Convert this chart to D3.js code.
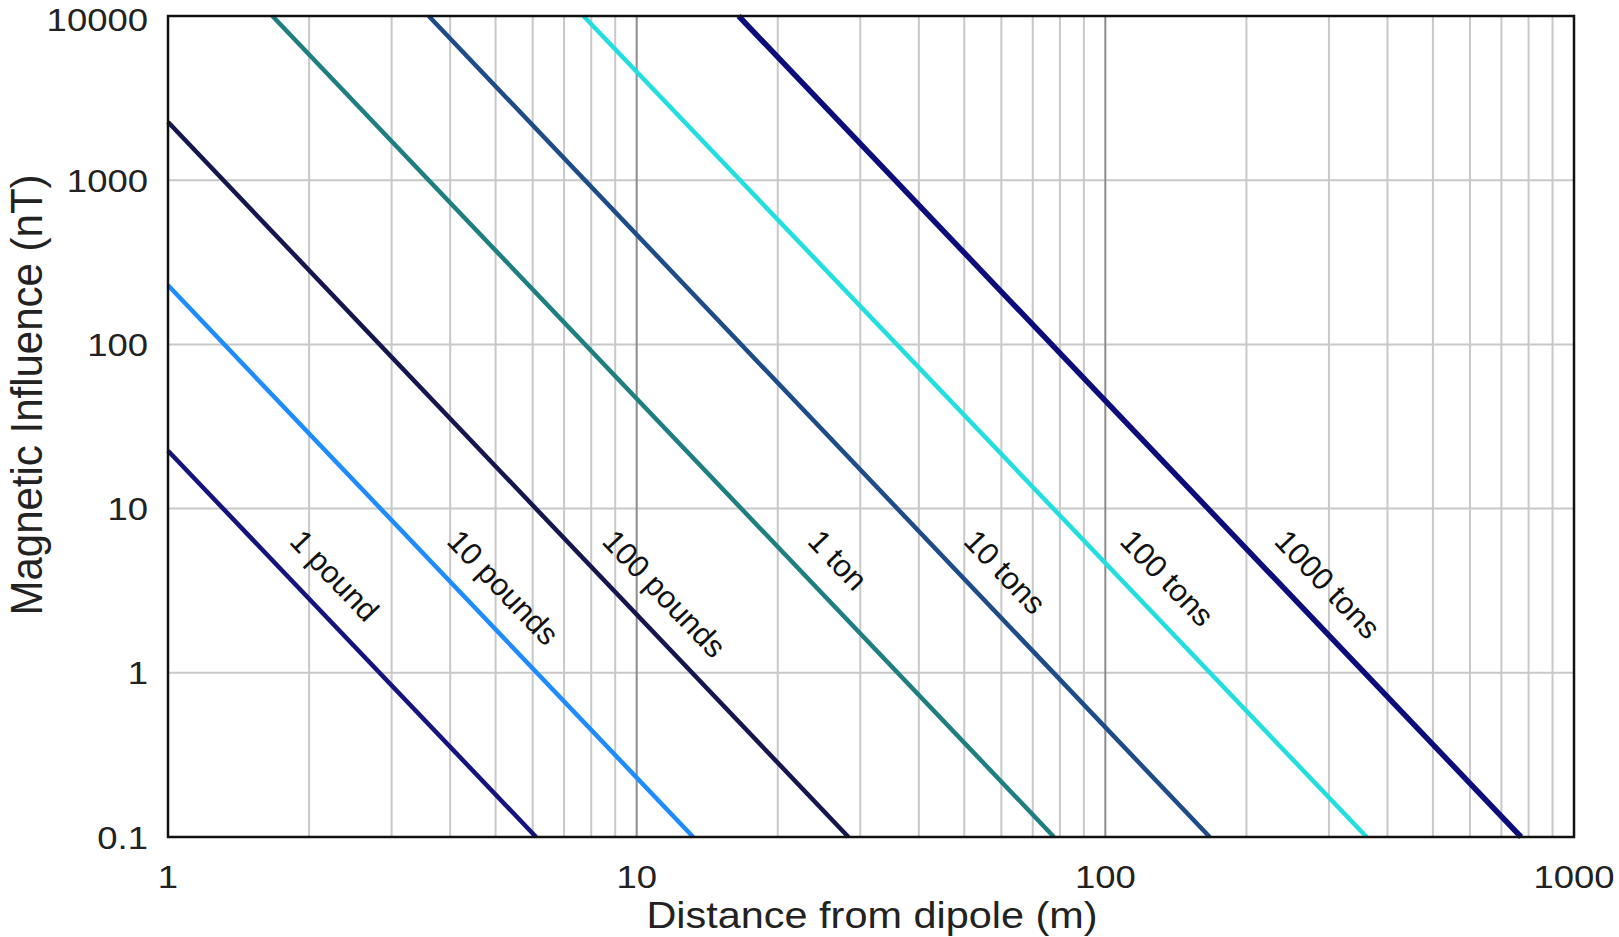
<!DOCTYPE html>
<html>
<head>
<meta charset="utf-8">
<script src="https://cdn.jsdelivr.net/npm/d3@7"></script>
<style>
  html, body { margin: 0; padding: 0; background: #fff; }
  svg { display: block; font-family: "Liberation Sans", Arial, sans-serif; }
</style>
</head>
<body>
<script>
const masses     = ["1 pound", "10 pounds", "100 pounds", "1 ton", "10 tons", "100 tons", "1000 tons"];
const startDist  = [1, 1, 1, 1.67, 3.6, 7.7, 16.5];
const startField = [22.5, 229, 2260, 10000, 10000, 10000, 10000];
const endDist    = [6.1, 13.2, 28.3, 77.7, 167, 361, 771];
const endField   = [0.1, 0.1, 0.1, 0.1, 0.1, 0.1, 0.1];
const lineColors = ["#14147e", "#1e8cff", "#16164f", "#1f7f80", "#1d4c88", "#22dede", "#0c0c7a"];
const lineWidths = [4.5, 4.5, 4.5, 4.5, 4.5, 4.5, 5.5];

const xTickVals = [1, 10, 100, 1000];
const xTickText = ["1", "10", "100", "1000"];
const yTickVals = [0.1, 1, 10, 100, 1000, 10000];
const yTickText = ["0.1", "1", "10", "100", "1000", "10000"];

const labelField = 5.8; // labels all sit at about this height

const W = 1619, H = 937;
const plotL = 168, plotR = 1574, plotT = 16, plotB = 837;

const svg = d3.select("body").append("svg")
    .attr("width", W)
    .attr("height", H);

const x = d3.scaleLog().domain([1, 1000]).range([plotL, plotR]);
const y = d3.scaleLog().domain([0.1, 10000]).range([plotB, plotT]);

// grid
const grid = svg.append("g");
const isMajor = v => Math.abs(Math.log10(v) - Math.round(Math.log10(v))) < 1e-9;

grid.selectAll("line.ygrid")
    .data(yTickVals.slice(1, -1))
    .enter().append("line")
    .attr("x1", plotL).attr("x2", plotR)
    .attr("y1", d => y(d)).attr("y2", d => y(d))
    .attr("stroke", "#c8c8c8")
    .attr("stroke-width", 2);

grid.selectAll("line.xgrid")
    .data(x.ticks().filter(v => v > 1 && v < 1000))
    .enter().append("line")
    .attr("x1", d => x(d)).attr("x2", d => x(d))
    .attr("y1", plotT).attr("y2", plotB)
    .attr("stroke", d => isMajor(d) ? "#8c8c8c" : "#c8c8c8")
    .attr("stroke-width", 2);

// lines
const line = d3.line().x(d => x(d[0])).y(d => y(d[1]));
const series = masses.map((m, i) => ({
    name: m,
    pts: [[startDist[i], startField[i]], [endDist[i], endField[i]]],
    color: lineColors[i],
    width: lineWidths[i]
}));

svg.append("g").selectAll("path")
    .data(series)
    .enter().append("path")
    .attr("d", d => line(d.pts))
    .attr("fill", "none")
    .attr("stroke", d => d.color)
    .attr("stroke-width", d => d.width);

// frame
svg.append("rect")
    .attr("x", plotL).attr("y", plotT)
    .attr("width", plotR - plotL).attr("height", plotB - plotT)
    .attr("fill", "none")
    .attr("stroke", "#111")
    .attr("stroke-width", 2.5);

// labels along the lines
function onLine(d, field) {
    const [p0, p1] = d.pts;
    const t = (Math.log10(field) - Math.log10(p0[1])) / (Math.log10(p1[1]) - Math.log10(p0[1]));
    return Math.pow(10, Math.log10(p0[0]) + t * (Math.log10(p1[0]) - Math.log10(p0[0])));
}

svg.append("g").selectAll("text")
    .data(series)
    .enter().append("text")
    .attr("transform", d => {
        const [p0, p1] = d.pts;
        const ang = Math.atan2(y(p1[1]) - y(p0[1]), x(p1[0]) - x(p0[0])) * 180 / Math.PI;
        const px = x(onLine(d, labelField)) + 28;
        const py = y(labelField) - 5;
        return `translate(${px},${py}) rotate(${ang})`;
    })
    .attr("font-size", 31)
    .attr("fill", "#111")
    .text(d => d.name);

// tick labels
svg.append("g").selectAll("text")
    .data(yTickVals)
    .enter().append("text")
    .attr("transform", d => `translate(148,${Math.max(y(d), 19)}) scale(1.14,1)`)
    .attr("text-anchor", "end")
    .attr("dy", "0.36em")
    .attr("font-size", 32)
    .attr("fill", "#222")
    .text((d, i) => yTickText[i]);

svg.append("g").selectAll("text")
    .data(xTickVals)
    .enter().append("text")
    .attr("transform", d => `translate(${x(d)},876) scale(1.14,1)`)
    .attr("text-anchor", "middle")
    .attr("dy", "0.36em")
    .attr("font-size", 32)
    .attr("fill", "#222")
    .text((d, i) => xTickText[i]);

// axis titles
svg.append("text")
    .attr("transform", `translate(872,928) scale(1.12,1)`)
    .attr("text-anchor", "middle")
    .attr("font-size", 37)
    .attr("fill", "#222")
    .text("Distance from dipole (m)");

svg.append("text")
    .attr("transform", `translate(42,395) scale(1.05,1) rotate(-90)`)
    .attr("text-anchor", "middle")
    .attr("font-size", 42)
    .attr("fill", "#222")
    .text("Magnetic Influence (nT)");
</script>
</body>
</html>
